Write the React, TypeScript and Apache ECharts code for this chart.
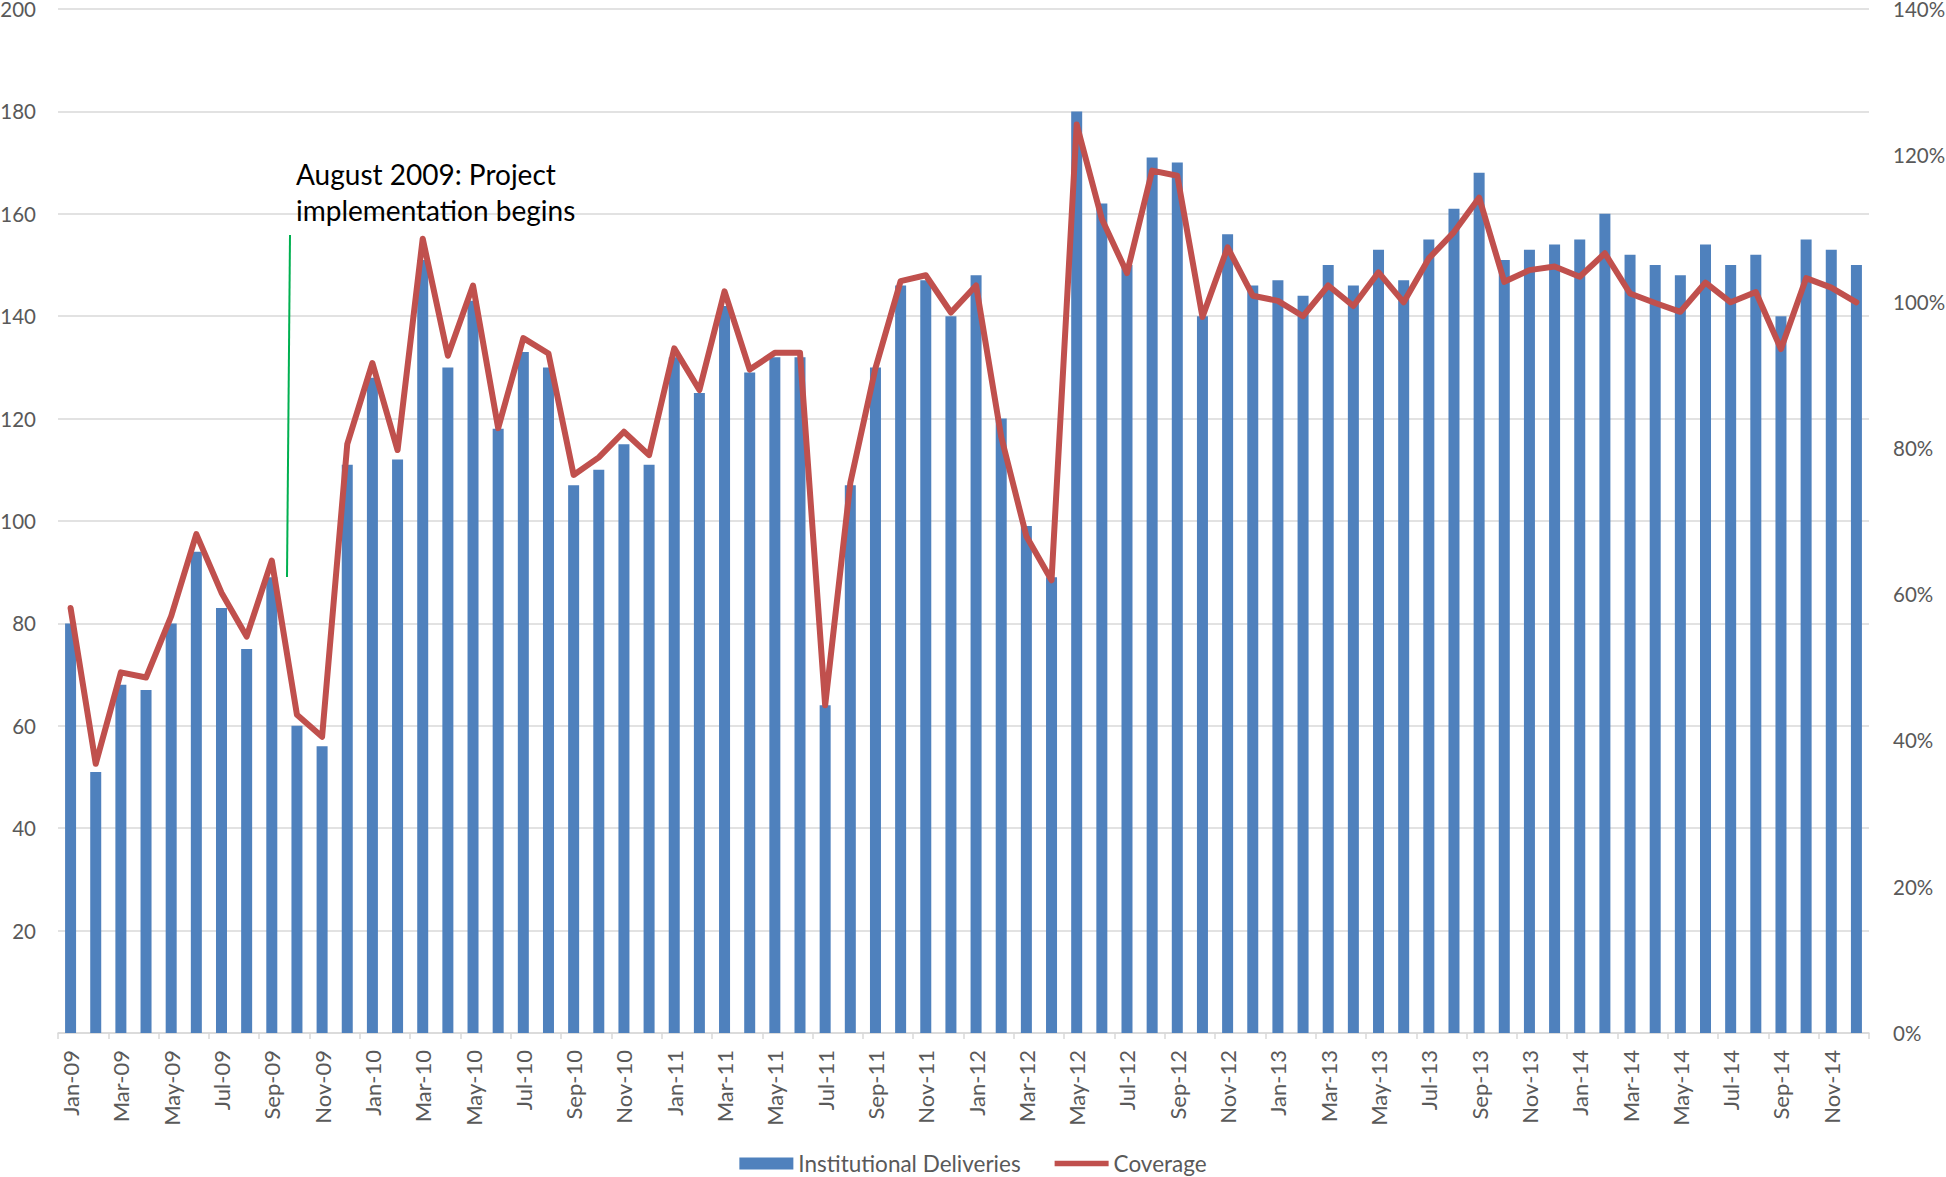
import React, { useEffect, useRef } from 'react';
import * as echarts from 'echarts';

const months = [
  'Jan-09', 'Feb-09', 'Mar-09', 'Apr-09', 'May-09', 'Jun-09', 'Jul-09', 'Aug-09', 'Sep-09', 'Oct-09', 'Nov-09', 'Dec-09',
  'Jan-10', 'Feb-10', 'Mar-10', 'Apr-10', 'May-10', 'Jun-10', 'Jul-10', 'Aug-10', 'Sep-10', 'Oct-10', 'Nov-10', 'Dec-10',
  'Jan-11', 'Feb-11', 'Mar-11', 'Apr-11', 'May-11', 'Jun-11', 'Jul-11', 'Aug-11', 'Sep-11', 'Oct-11', 'Nov-11', 'Dec-11',
  'Jan-12', 'Feb-12', 'Mar-12', 'Apr-12', 'May-12', 'Jun-12', 'Jul-12', 'Aug-12', 'Sep-12', 'Oct-12', 'Nov-12', 'Dec-12',
  'Jan-13', 'Feb-13', 'Mar-13', 'Apr-13', 'May-13', 'Jun-13', 'Jul-13', 'Aug-13', 'Sep-13', 'Oct-13', 'Nov-13', 'Dec-13',
  'Jan-14', 'Feb-14', 'Mar-14', 'Apr-14', 'May-14', 'Jun-14', 'Jul-14', 'Aug-14', 'Sep-14', 'Oct-14', 'Nov-14', 'Dec-14',
];

const deliveries = [
  80, 51, 68, 67, 80, 94, 83, 75, 89, 60, 56, 111,
  128, 112, 151, 130, 143, 118, 133, 130, 107, 110, 115, 111,
  132, 125, 142, 129, 132, 132, 64, 107, 130, 146, 147, 140,
  148, 120, 99, 89, 180, 162, 150, 171, 170, 140, 156, 146,
  147, 144, 150, 146, 153, 147, 155, 161, 168, 151, 153, 154,
  155, 160, 152, 150, 148, 154, 150, 152, 140, 155, 153, 150,
];

const coverage = [
  58.1, 36.8, 49.3, 48.6, 57.0, 68.2, 60.2, 54.2, 64.6, 43.5, 40.5, 80.5,
  91.6, 79.7, 108.6, 92.6, 102.2, 82.7, 95.0, 92.9, 76.3, 78.7, 82.2, 79.0,
  93.6, 87.9, 101.4, 90.7, 93.0, 93.0, 44.8, 75.2, 90.9, 102.8, 103.6, 98.5,
  102.2, 81.5, 67.9, 61.9, 124.2, 111.3, 103.9, 117.9, 117.2, 97.9, 107.4, 100.8,
  100.1, 98.0, 102.2, 99.4, 104.0, 99.9, 105.9, 109.5, 114.2, 102.7, 104.3, 104.8,
  103.4, 106.6, 101.1, 99.8, 98.6, 102.6, 99.9, 101.3, 93.5, 103.2, 101.9, 99.9,
];

const annotationText = 'August 2009: Project\nimplementation begins';

const FONT = 'Lato, "Noto Sans", sans-serif';

export default function App() {
  const ref = useRef<HTMLDivElement>(null);

  useEffect(() => {
    document.body.style.margin = '0';
    if (!ref.current) return;
    const chart = echarts.init(ref.current, undefined, { renderer: 'svg' });
    chart.setOption({
      animation: false,
      backgroundColor: '#ffffff',
      textStyle: { fontFamily: FONT },
      grid: { left: 58, right: 77, top: 9, bottom: 144, outerBoundsMode: 'none' },
      legend: {
        top: 1147,
        left: 'center',
        itemWidth: 54,
        itemHeight: 12,
        itemGap: 34,
        textStyle: { fontFamily: FONT, fontSize: 22.5, color: '#595959' },
        data: [
          { name: 'Institutional Deliveries', icon: 'rect' },
          { name: 'Coverage', icon: 'path://M0,0H57V6H0Z' },
        ],
      },
      xAxis: {
        type: 'category',
        data: months,
        boundaryGap: true,
        axisLine: { show: true, lineStyle: { color: '#d9d9d9', width: 1.5 } },
        axisTick: { show: true, interval: 1, length: 6, lineStyle: { color: '#d9d9d9', width: 1.5 } },
        axisLabel: {
          interval: 1,
          rotate: 90,
          margin: 17,
          fontSize: 22,
          color: '#595959',
          fontFamily: FONT,
        },
        splitLine: { show: false },
      },
      yAxis: [
        {
          type: 'value',
          min: 0,
          max: 200,
          interval: 20,
          axisLine: { show: false },
          axisTick: { show: false },
          axisLabel: {
            margin: 22,
            fontSize: 20.5,
            color: '#595959',
            fontFamily: FONT,
            formatter: (v: number) => (v === 0 ? '' : String(v)),
          },
          splitLine: { show: true, lineStyle: { color: '#d9d9d9', width: 1.5 } },
        },
        {
          type: 'value',
          min: 0,
          max: 140,
          interval: 20,
          position: 'right',
          axisLine: { show: false },
          axisTick: { show: false },
          axisLabel: {
            margin: 24,
            fontSize: 20.5,
            color: '#595959',
            fontFamily: FONT,
            formatter: (v: number) => v + '%',
          },
          splitLine: { show: false },
        },
      ],
      series: [
        {
          name: 'Institutional Deliveries',
          type: 'bar',
          data: deliveries,
          yAxisIndex: 0,
          barWidth: 11,
          itemStyle: { color: '#4F81BD' },
        },
        {
          name: 'Coverage',
          type: 'line',
          data: coverage,
          yAxisIndex: 1,
          symbol: 'none',
          showSymbol: false,
          lineStyle: { color: '#C0504D', width: 6, join: 'round', cap: 'round' },
          itemStyle: { color: '#C0504D' },
        },
      ],
      graphic: [
        {
          type: 'line',
          shape: { x1: 290, y1: 235, x2: 287, y2: 577 },
          style: { stroke: '#00B050', lineWidth: 2 },
          z: 100,
        },
        {
          type: 'text',
          x: 296,
          y: 156,
          style: {
            text: annotationText,
            font: '28px Lato, "Noto Sans", sans-serif',
            fill: '#000000',
            lineHeight: 36,
          },
          z: 100,
        },
      ],
    });
    return () => chart.dispose();
  }, []);

  return <div ref={ref} style={{ width: 1946, height: 1177 }} />;
}
